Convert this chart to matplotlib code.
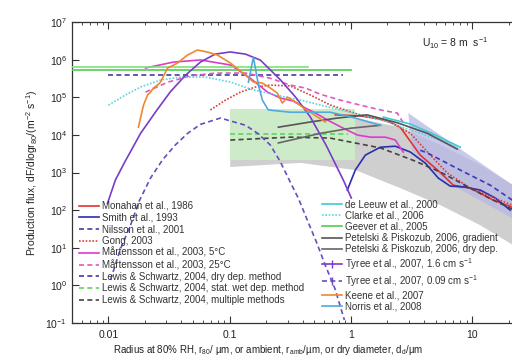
import numpy as np
import matplotlib
matplotlib.use('Agg')
import matplotlib.pyplot as plt
from matplotlib.lines import Line2D
from matplotlib.ticker import NullLocator, FixedLocator, FixedFormatter, LogLocator

plt.rcParams['font.family'] = ['Liberation Sans', 'DejaVu Sans']
plt.rcParams['mathtext.fontset'] = 'custom'
plt.rcParams['mathtext.rm'] = 'Liberation Sans'
plt.rcParams['mathtext.it'] = 'Liberation Sans:italic'
plt.rcParams['mathtext.sf'] = 'Liberation Sans'
plt.rcParams['mathtext.default'] = 'regular'

# ---------------- data (radius in um, flux in m^-2 s^-1) ----------------
monahan_r = [0.743, 1.19, 1.92, 2.55, 3.73, 5.46, 6.98, 9.64, 14.9, 21.4]
monahan_f = [3.4e4, 3.2e4, 2.5e4, 1.6e4, 2.9e3, 1.0e3, 460, 385, 185, 120]

smith_r = [0.933, 1.086, 1.315, 1.746, 2.32, 3.09, 4.10, 5.26, 6.59, 8.77, 11.7, 15.5, 20.6]
smith_f = [340, 1160, 2900, 4700, 5000, 3500, 1780, 710, 435, 410, 340, 210, 100]

nilsson_r = [0.01, 0.865]
nilsson_f = [3.9e5, 3.9e5]

gong_r = [0.0693, 0.0923, 0.1225, 0.163, 0.216, 0.316, 0.462, 0.676, 1.19, 2.11, 3.09, 4.52, 6.24, 9.64, 14.1, 21.4]
gong_f = [4.6e4, 8.4e4, 1.37e5, 1.87e5, 2.1e5, 2.0e5, 1.15e5, 6.2e4, 3.4e4, 2.2e4, 1.1e4, 2.9e3, 970, 385, 235, 136]

mart5_r = [0.0202, 0.0344, 0.0573, 0.1014, 0.148, 0.205, 0.262, 0.335, 0.406, 0.509, 0.638, 0.865, 1.13, 1.45, 1.92, 2.32, 2.70]
mart5_f = [6.0e5, 8.6e5, 9.8e5, 7.2e5, 3.2e5, 1.37e5, 9.5e4, 7.9e4, 5.5e4, 3.8e4, 2.5e4, 1.5e4, 9.9e3, 8.7e3, 8.7e3, 7.3e3, 3.5e3]

mart25_r = [0.0202, 0.0307, 0.0474, 0.0762, 0.1346, 0.216, 0.316, 0.421, 0.560, 0.818, 1.19, 1.75, 2.41, 2.70]
mart25_f = [1.37e5, 2.5e5, 3.7e5, 4.4e5, 4.4e5, 3.2e5, 2.1e5, 1.76e5, 1.2e5, 8.4e4, 6.2e4, 4.6e4, 3.8e4, 2.1e4]

lsdry_r = [3.73, 4.27, 7.98, 14.1, 21.4]
lsdry_f = [3900, 3300, 1160, 460, 185]

lswet_r = [0.1, 0.95]
lswet_f = [1.05e4, 1.05e4]

lsmult_r = [0.101, 0.316, 0.676, 1.75, 3.27, 5.46, 9.64, 14.9, 21.4]
lsmult_f = [7300, 8700, 8200, 4500, 2100, 1030, 385, 185, 106]

deleeuw_r = [1.85, 3.09, 4.97, 7.98]
deleeuw_f = [2.97e4, 1.94e4, 9.9e3, 4.7e3]

clarke_r = [0.01, 0.0138, 0.0184, 0.0269, 0.0393, 0.0631, 0.1014, 0.148, 0.238, 0.383, 0.818, 1.75, 3.73, 7.98]
clarke_f = [6.2e4, 1.15e5, 1.87e5, 2.87e5, 3.44e5, 3.44e5, 2.54e5, 1.65e5, 1.15e5, 8.4e4, 4.6e4, 2.5e4, 1.1e4, 4.7e3]

geever1_r = [0.005, 0.446]
geever1_f = [6.3e5, 6.3e5]
geever2_r = [0.005, 1.0]
geever2_f = [5.2e5, 5.2e5]

pgrad_r = [0.252, 0.462, 0.773, 1.36, 2.41, 4.27, 7.53]
pgrad_f = [1.6e4, 2.2e4, 2.8e4, 3.4e4, 2.1e4, 1.1e4, 4.2e3]

pdry_r = [0.252, 0.560, 0.99, 1.75]
pdry_f = [6.1e3, 1.1e4, 1.5e4, 1.8e4]

tyree16_r = [0.0098, 0.0114, 0.0135, 0.0184, 0.025, 0.0324, 0.043, 0.0573, 0.0759, 0.101, 0.135,
             0.179, 0.262, 0.35, 0.462, 0.63, 0.865, 1.007]
tyree16_f = [1.5e2, 6.3e2, 1.8e3, 1.1e4, 4.5e4, 1.4e5, 3.8e5, 8.6e5, 1.4e6, 1.6e6, 1.4e6,
             9.7e5, 2.9e5, 1.0e5, 3.0e4, 5.0e3, 6.3e2, 2.1e2]

tyree009_r = [0.0104, 0.0125, 0.0152, 0.018, 0.0222, 0.028, 0.0356, 0.045, 0.0573, 0.0838, 0.135,
              0.17, 0.216, 0.26, 0.310, 0.37, 0.437, 0.52, 0.615, 0.74, 0.883]
tyree009_f = [1.4, 9, 40, 180, 710, 2.2e3, 5.4e3, 1.1e4, 1.9e4, 2.8e4, 1.8e4,
              1.1e4, 5.4e3, 2.0e3, 630, 200, 54, 14, 3.4, 0.8, 0.12]

keene_r = [0.01766, 0.01945, 0.0210, 0.0222, 0.0235, 0.0254, 0.0269, 0.0307, 0.0371, 0.0448, 0.0542,
           0.0655, 0.0793, 0.1014, 0.1346, 0.1567, 0.1858, 0.2163, 0.2472, 0.2716, 0.2992, 0.3289,
           0.3614, 0.4055, 0.4624, 0.5284, 0.6152]
keene_f = [1.61e4, 6.2e4, 1.15e5, 1.37e5, 1.76e5, 2.11e5, 2.54e5, 5.98e5, 8.1e5, 1.32e6, 1.80e6,
           1.59e6, 1.32e6, 8.1e5, 3.9e5, 2.54e5, 2.39e5, 1.76e5, 1.29e5, 7.0e4, 1.01e5, 8.4e4,
           7.0e4, 5.2e4, 4.0e4, 3.0e4, 2.2e4]

norris_r = [0.1426, 0.1567, 0.1726, 0.186, 0.208, 0.316, 0.676, 1.086, 1.746]
norris_f = [2.5e5, 1.17e6, 2.1e5, 8.4e4, 4.6e4, 4.0e4, 4.0e4, 2.8e4, 1.8e4]

# shaded ranges
greenbox_r = [0.1, 1.09]
greenbox_f = [2.1e3, 5.0e4]

grayband_r = [0.101, 1.09, 2.55, 5.46, 11.6, 30]
grayband_up = [4.6e4, 2.8e4, 1.6e4, 5.4e3, 1.6e3, 250]
grayband_lo_r = [0.101, 0.383, 1.09, 2.55, 5.46, 11.6, 30]
grayband_lo = [1.4e3, 1.8e3, 1.16e3, 385, 136, 40, 6.3]

lav_up_r = [2.97, 30]
lav_up_f = [3.8e4, 222]
lav_lo_r = [3.21, 5.78, 21.4, 30]
lav_lo_f = [3.9e3, 630, 61, 33]

# ---------------- figure ----------------
W, H = 512, 358
fig = plt.figure(figsize=(W / 100, H / 100), dpi=100)
ax = fig.add_axes([72 / W, 35 / H, 458 / W, 301 / H])
ax.set_xscale('log')
ax.set_yscale('log')
ax.set_xlim(0.005, 30)
ax.set_ylim(0.1, 1e7)

# shaded areas
gx = np.concatenate([grayband_r, grayband_lo_r[::-1]])
gy = np.concatenate([grayband_up, grayband_lo[::-1]])
ax.fill(gx, gy, color='#cfcfcf', lw=0, zorder=1)
lx = np.concatenate([lav_up_r, lav_lo_r[::-1]])
ly = np.concatenate([lav_up_f, lav_lo_f[::-1]])
ax.fill(lx, ly, color='#b8b8e6', alpha=0.75, lw=0, zorder=1.1)
ax.fill_between(greenbox_r, greenbox_f[0], greenbox_f[1], color='#cdebc8', lw=0, zorder=1.2)

lw = 1.2
h = {}
h['mon'], = ax.plot(monahan_r, monahan_f, color='#e8312d', lw=lw, zorder=3)
h['smith'], = ax.plot(smith_r, smith_f, color='#2a2fb0', lw=lw, zorder=3)
h['nil'], = ax.plot(nilsson_r, nilsson_f, color='#4a3aa0', lw=lw, ls=(0, (3, 2)), zorder=3)
h['gong'], = ax.plot(gong_r, gong_f, color='#d8403a', lw=lw, ls=(0, (1, 1)), zorder=3)
h['m5'], = ax.plot(mart5_r, mart5_f, color='#dc3ccc', lw=lw, zorder=3)
h['m25'], = ax.plot(mart25_r, mart25_f, color='#e05ac0', lw=lw, ls=(0, (3, 2)), zorder=3)
h['lsd'], = ax.plot(lsdry_r, lsdry_f, color='#3a3ab4', lw=lw, ls=(0, (3, 2)), zorder=3)
h['lsw'], = ax.plot(lswet_r, lswet_f, color='#5ed45a', lw=lw, ls=(0, (3, 2)), zorder=3)
h['lsm'], = ax.plot(lsmult_r, lsmult_f, color='#444444', lw=lw, ls=(0, (3, 2)), zorder=3)
h['dl'], = ax.plot(deleeuw_r, deleeuw_f, color='#3ec8d8', lw=lw, zorder=3)
h['cl'], = ax.plot(clarke_r, clarke_f, color='#5ad4e0', lw=lw, ls=(0, (1, 1)), zorder=3)
h['gv'], = ax.plot(geever2_r, geever2_f, color='#4cd04c', lw=lw, zorder=3)
ax.plot(geever1_r, geever1_f, color='#7ee07a', lw=lw, zorder=3)
h['pg'], = ax.plot(pgrad_r, pgrad_f, color='#555555', lw=lw, zorder=3)
h['pd'], = ax.plot(pdry_r, pdry_f, color='#666666', lw=lw, zorder=3)
ax.plot(tyree16_r, tyree16_f, color='#7a3cc8', lw=lw, zorder=3)
ax.plot(tyree009_r, tyree009_f, color='#6a4cc0', lw=lw, ls=(0, (3, 2)), zorder=3)
h['ke'], = ax.plot(keene_r, keene_f, color='#f0882e', lw=lw, zorder=3)
h['no'], = ax.plot(norris_r, norris_f, color='#52a8e0', lw=lw, zorder=3)
h['ty16'] = Line2D([], [], color='#7a3cc8', lw=lw, marker='|', ms=6)
h['ty09'] = Line2D([], [], color='#6a4cc0', lw=lw, ls=(0, (3, 2)), marker='|', ms=6)

# axes styling
for s in ['left', 'bottom', 'top']:
    ax.spines[s].set_color('#333333')
    ax.spines[s].set_linewidth(0.9)
ax.spines['right'].set_visible(False)
ax.tick_params(which='both', direction='in', top=True, right=False, colors='#333333',
               labelsize=7.5, labelcolor='#222222')
ax.tick_params(which='major', length=5)
ax.tick_params(which='minor', length=2.5)
ax.xaxis.set_major_locator(FixedLocator([0.01, 0.1, 1, 10]))
ax.xaxis.set_major_formatter(FixedFormatter(['0.01', '0.1', '1', '10']))
ax.xaxis.set_minor_locator(LogLocator(base=10, subs=np.arange(2, 10), numticks=20))
ax.yaxis.set_major_locator(FixedLocator([1e-1, 1, 1e1, 1e2, 1e3, 1e4, 1e5, 1e6, 1e7]))
ax.yaxis.set_minor_locator(NullLocator())
ax.tick_params(axis='x', pad=5)

ax.set_ylabel('Production flux, dF/dlogr$_{80}$/(m$^{-2}$ s$^{-1}$)', fontsize=7.5, color='#222222', labelpad=4)
fig.text(268 / W, 1 - 350 / H,
         'Radius at 80% RH, r$_{80}$/ \u00b5m, or ambient, r$_{amb}$/\u00b5m, or dry diameter, d$_{d}$/\u00b5m',
         fontsize=7, color='#222222', ha='center', va='center')
fig.text(422 / W, 1 - 43 / H, 'U$_{10}$ = 8 m  s$^{-1}$', fontsize=7.5, color='#222222',
         ha='left', va='center')

left_keys = ['mon', 'smith', 'nil', 'gong', 'm5', 'm25', 'lsd', 'lsw', 'lsm']
left_labels = ['Monahan et al., 1986', 'Smith et al., 1993', 'Nilsson et al., 2001', 'Gong, 2003',
               'M\u00e5rtensson et al., 2003, 5\u00b0C', 'M\u00e5rtensson et al., 2003, 25\u00b0C',
               'Lewis & Schwartz, 2004, dry dep. method', 'Lewis & Schwartz, 2004, stat. wet dep. method',
               'Lewis & Schwartz, 2004, multiple methods']
right_keys = ['dl', 'cl', 'gv', 'pg', 'pd', 'ty16', 'ty09', 'ke', 'no']
right_labels = ['de Leeuw et al., 2000', 'Clarke et al., 2006', 'Geever et al., 2005',
                'Petelski & Piskozub, 2006, gradient', 'Petelski & Piskozub, 2006, dry dep.',
                'Tyree et al., 2007, 1.6 cm s$^{-1}$', 'Tyree et al., 2007, 0.09 cm s$^{-1}$',
                'Keene et al., 2007', 'Norris et al., 2008']

leg1 = ax.legend([h[k] for k in left_keys], left_labels, loc='upper left',
                 bbox_to_anchor=(79 / W, 1 - 201 / H), bbox_transform=fig.transFigure,
                 frameon=False, fontsize=7, handlelength=2.1, handletextpad=0.3,
                 labelspacing=0.17, borderpad=0, borderaxespad=0)
for t in leg1.get_texts():
    t.set_color('#333333')
ax.add_artist(leg1)
leg2 = ax.legend([h[k] for k in right_keys], right_labels, loc='upper left',
                 bbox_to_anchor=(322 / W, 1 - 199 / H), bbox_transform=fig.transFigure,
                 frameon=False, fontsize=7, handlelength=2.1, handletextpad=0.3,
                 labelspacing=0.14, borderpad=0, borderaxespad=0)
for t in leg2.get_texts():
    t.set_color('#333333')

fig.savefig('out.png', dpi=100)
